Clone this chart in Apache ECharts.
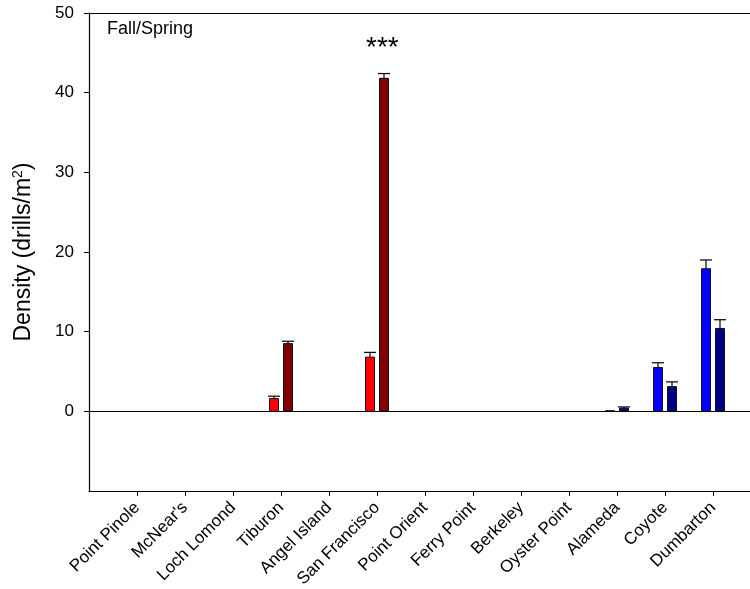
<!DOCTYPE html>
<html>
<head>
  <meta charset="UTF-8">
  <title>Fall/Spring density</title>
  <script src="https://cdn.jsdelivr.net/npm/echarts@6/dist/echarts.min.js"></script>
  <style>
    html, body { margin: 0; padding: 0; background: #fff; }
    #chart { width: 750px; height: 589px; }
  </style>
</head>
<body>
  <div id="chart"></div>
  <script>
    // sites along the bay, left to right
    var sites = ['Point Pinole', "McNear's", 'Loch Lomond', 'Tiburon', 'Angel Island',
      'San Francisco', 'Point Orient', 'Ferry Point', 'Berkeley', 'Oyster Point',
      'Alameda', 'Coyote', 'Dumbarton'];
    // fall means / SE (left bar of each pair)
    var fallMean = [0, 0, 0, 1.6, 0, 6.8, 0, 0, 0, 0, 0.08, 5.5, 17.9];
    var fallErr  = [0, 0, 0, 0.3, 0, 0.6, 0, 0, 0, 0, 0, 0.6, 1.1];
    // spring means / SE (right bar)
    var springMean = [0, 0, 0, 8.5, 0, 41.8, 0, 0, 0, 0, 0.4, 3.1, 10.4];
    var springErr  = [0, 0, 0, 0.3, 0, 0.6, 0, 0, 0, 0, 0.15, 0.6, 1.1];
    var yTicks = [0, 10, 20, 30, 40, 50];

    var font = 'Liberation Sans, Arial, sans-serif';
    var siteTicks = sites.map(function (s, i) { return i + 1; });

    function barColor(i, dark) {
      // north bay sites red, south bay blue
      if (i < 10) return dark ? '#800000' : '#ff0000';
      return dark ? '#000080' : '#0000ff';
    }

    function barSeries(name, means, errs, offset, dark) {
      return {
        name: name,
        type: 'custom',
        data: means.map(function (m, i) { return [i + 1, m, errs[i], i]; }),
        renderItem: function (params, api) {
          var x = api.value(0), v = api.value(1), e = api.value(2), idx = api.value(3);
          if (!v) return null;
          var base = api.coord([x, 0]);
          var top = api.coord([x, v]);
          var cx = base[0] + offset;
          var children = [{
            type: 'rect',
            shape: { x: cx - 4.5, y: top[1], width: 9, height: base[1] - top[1] },
            style: { fill: barColor(idx, dark), stroke: '#111', lineWidth: 1 }
          }];
          if (e > 0) {
            var et = api.coord([x, v + e]);
            children.push({
              type: 'line',
              shape: { x1: cx, y1: top[1], x2: cx, y2: et[1] },
              style: { stroke: '#000', lineWidth: 1.2 }
            });
            children.push({
              type: 'line',
              shape: { x1: cx - 6, y1: et[1], x2: cx + 6, y2: et[1] },
              style: { stroke: '#000', lineWidth: 1.2 }
            });
          }
          return { type: 'group', children: children };
        },
        z: 3
      };
    }

    var chart = echarts.init(document.getElementById('chart'));
    chart.setOption({
      animation: false,
      textStyle: { fontFamily: font },
      grid: { left: 89, right: 0, top: 13, bottom: 98, containLabel: false, outerBoundsMode: 'none' },
      xAxis: {
        type: 'value', min: 0, max: 661 / 48, interval: 1,
        axisLine: { show: true, onZero: false, lineStyle: { color: '#000', width: 1.2 } },
        axisTick: { show: true, length: 5, customValues: siteTicks, lineStyle: { color: '#000' } },
        splitLine: { show: false },
        axisLabel: {
          rotate: 45, margin: 14, color: '#000', fontSize: 17, fontFamily: font,
          customValues: siteTicks,
          formatter: function (v) { return sites[v - 1] || ''; }
        }
      },
      yAxis: {
        type: 'value', min: -10, max: 50, interval: 10,
        name: 'Density (drills/m{sup|2})',
        nameLocation: 'middle', nameRotate: 90, nameGap: 53,
        nameTextStyle: {
          fontSize: 23, color: '#000', fontFamily: font,
          rich: { sup: { fontSize: 14, verticalAlign: 'top', padding: [0, 0, 11, 0], color: '#000', fontFamily: font } }
        },
        axisLine: { show: true, lineStyle: { color: '#000', width: 1.2 } },
        axisTick: { show: true, length: 5, customValues: yTicks, lineStyle: { color: '#000' } },
        splitLine: { show: false },
        axisLabel: {
          color: '#000', fontSize: 17, margin: 15, fontFamily: font,
          customValues: yTicks
        }
      },
      series: [
        barSeries('Fall', fallMean, fallErr, -7, false),
        barSeries('Spring', springMean, springErr, 7, true),
        {
          type: 'line', data: [], silent: true,
          markLine: {
            silent: true, symbol: 'none', label: { show: false },
            lineStyle: { color: '#000', type: 'solid', width: 1.2 },
            data: [{ yAxis: 0 }, { yAxis: 50 }]
          }
        }
      ],
      graphic: [
        { type: 'text', left: 107, top: 20,
          style: { text: 'Fall/Spring', fontSize: 18, fill: '#000', fontFamily: font } },
        { type: 'text', left: 366, top: 34,
          style: { text: '***', fontSize: 28, fill: '#000', fontFamily: font } }
      ]
    });
  </script>
</body>
</html>
